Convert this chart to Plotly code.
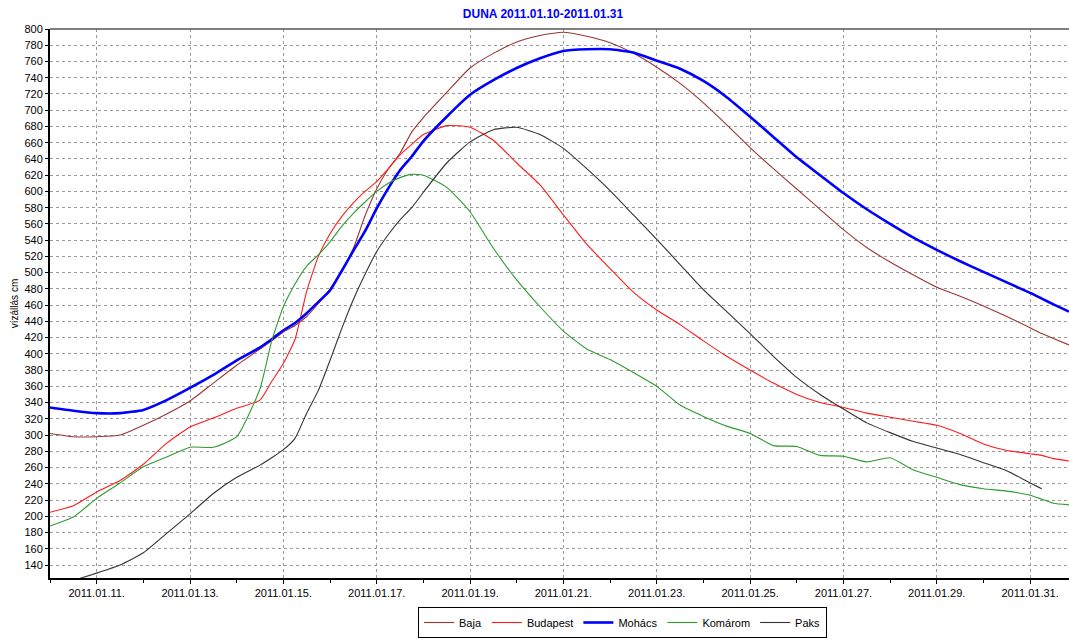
import plotly.graph_objects as go

times = [
    "2011-01-10 00:00", "2011-01-10 12:00", "2011-01-11 00:00", "2011-01-11 12:00",
    "2011-01-12 00:00", "2011-01-12 12:00", "2011-01-13 00:00", "2011-01-13 12:00",
    "2011-01-14 00:00", "2011-01-14 12:00", "2011-01-14 18:00", "2011-01-15 00:00",
    "2011-01-15 06:00", "2011-01-15 12:00", "2011-01-15 18:00", "2011-01-16 00:00",
    "2011-01-16 06:00", "2011-01-16 12:00", "2011-01-16 18:00", "2011-01-17 00:00",
    "2011-01-17 06:00", "2011-01-17 12:00", "2011-01-17 18:00", "2011-01-18 00:00",
    "2011-01-18 12:00", "2011-01-19 00:00", "2011-01-19 12:00", "2011-01-20 00:00",
    "2011-01-20 12:00", "2011-01-21 00:00", "2011-01-21 12:00", "2011-01-22 00:00",
    "2011-01-22 12:00", "2011-01-23 00:00", "2011-01-23 12:00", "2011-01-24 00:00",
    "2011-01-24 12:00", "2011-01-25 00:00", "2011-01-25 12:00", "2011-01-26 00:00",
    "2011-01-26 12:00", "2011-01-27 00:00", "2011-01-27 12:00", "2011-01-28 00:00",
    "2011-01-28 12:00", "2011-01-29 00:00", "2011-01-29 12:00", "2011-01-30 00:00",
    "2011-01-30 12:00", "2011-01-31 00:00", "2011-01-31 06:00", "2011-01-31 12:00",
    "2011-01-31 20:00",
]

baja = [302, 298, 298, 300, 312, 326, 342, 364, 386, 406, 416, 427, 435, 446, 462, 480,
        502, 530, 570, 603, 628, 647, 673, 691, 722, 752, 770, 784, 792, 796, 791, 783,
        770, 753, 733, 709, 682, 654, 628, 603, 578, 553, 531, 513, 497, 482, 471, 459,
        446, 432, 425, 419, 411]

mohacs = [334, 330, 327, 327, 331, 343, 358, 374, 392, 408, 418, 429, 438, 450, 464, 478,
          502, 527, 551, 579, 604, 626, 643, 662, 692, 719, 737, 752, 764, 773, 775, 775,
          771, 761, 751, 736, 716, 692, 667, 642, 620, 598, 578, 560, 543, 528, 514, 501,
          488, 475, 468, 461, 452]

budapest = [205, 213, 230, 244, 264, 290, 310, 321, 333, 343, 366, 388, 418, 477, 520, 548,
            569, 586, 600, 612, 628, 645, 658, 670, 681, 679, 663, 635, 608, 571, 535, 505,
            476, 454, 436, 416, 397, 380, 364, 350, 340, 334, 327, 322, 317, 312, 302, 289,
            281, 277, 275, 271, 268]

komarom = [188, 199, 222, 241, 261, 273, 285, 285, 298, 357, 416, 458, 486, 508, 522, 538,
           557, 573, 587, 600, 610, 617, 621, 620, 605, 575, 530, 491, 458, 428, 406, 393,
           377, 360, 337, 323, 311, 302, 287, 286, 275, 274, 267, 272, 257, 248, 239, 234,
           231, 226, 221, 216, 214]

paks = [None, 121, 130, 140, 155, 179, 203, 228, 248, 263, 272, 282, 296, 327, 355, 392,
        431, 467, 498, 526, 547, 565, 580, 599, 635, 661, 676, 679, 670, 653, 628, 601,
        571, 541, 510, 479, 452, 425, 397, 371, 350, 332, 315, 303, 292, 284, 276, 266,
        256, 241, 234, None, None]

series = [
    ("Baja", baja, "#9b3535", 1.1),
    ("Budapest", budapest, "#ff1a1a", 1.1),
    ("Mohács", mohacs, "#0000ff", 2.6),
    ("Komárom", komarom, "#2f9a2f", 1.1),
    ("Paks", paks, "#333333", 1.1),
]

fig = go.Figure()
for name, vals, color, width in series:
    fig.add_trace(go.Scatter(x=times, y=vals, mode="lines", name=name,
                             line=dict(color=color, width=width, shape="spline", smoothing=0.5),
                             connectgaps=False))

grid = dict(showgrid=True, gridcolor="#9a9a9a", gridwidth=1, griddash="3px,3px")

fig.update_layout(
    width=1069, height=639,
    margin=dict(l=50, r=0, t=29, b=61, autoexpand=False),
    paper_bgcolor="white", plot_bgcolor="white",
    font=dict(family="Liberation Sans, Arial, sans-serif", size=11, color="#000000"),
    title=dict(text="<b>DUNA 2011.01.10-2011.01.31</b>", font=dict(size=12, color="#0000ff"),
               x=(543 - 50) / 1019, xref="paper", xanchor="center",
               y=1 - 14 / 639, yref="container", yanchor="middle"),
    xaxis=dict(type="date", range=["2011-01-10 00:00", "2011-01-31 20:00"],
               tick0="2011-01-11", dtick=2 * 86400000, tickformat="%Y.%m.%d.",
               ticks="outside", ticklen=4, tickcolor="#000000",
               minor=dict(dtick=86400000, ticks="outside", ticklen=3, tickcolor="#000000", showgrid=False),
               showline=True, linecolor="#000000", linewidth=2, zeroline=False,
               tickfont=dict(size=11), automargin=False, **grid),
    yaxis=dict(range=[124, 800], tick0=0, dtick=20, ticks="outside", ticklen=3,
               tickcolor="#000000", showline=True, linecolor="#000000", linewidth=2,
               zeroline=False, tickfont=dict(size=11), automargin=False,
               title=dict(text="vízállás cm", font=dict(size=10), standoff=4), **grid),
    legend=dict(orientation="h", x=418 / 1069, xref="container", xanchor="left",
                y=1 / 639, yref="container", yanchor="bottom",
                bgcolor="white", bordercolor="#000000", borderwidth=1,
                font=dict(size=11), tracegroupgap=0, itemwidth=30),
    shapes=[dict(type="line", xref="paper", yref="paper", x0=0, x1=1, y0=1, y1=1,
                 line=dict(color="#555555", width=1.5))],
)

fig.write_html("out.html",
               config={"displayModeBar": False},
               post_script="document.body.style.margin='0px';document.body.style.overflow='hidden';")
